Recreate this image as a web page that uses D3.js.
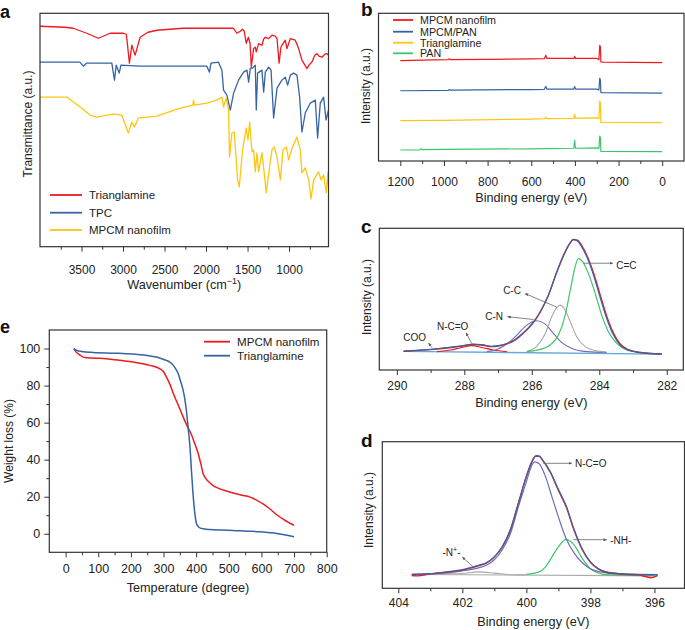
<!DOCTYPE html>
<html><head><meta charset="utf-8">
<script src="https://cdn.jsdelivr.net/npm/d3@7"></script>
<style>
body{margin:0;background:#fff}
text{font-family:"Liberation Sans",Arial,Helvetica,sans-serif;fill:#222}
</style>
</head><body><script>
// ---------------- DATA ----------------
// Panel a: FTIR, [wavenumber cm-1, transmittance a.u.]
const irTrianglamine = [[4000,110.5],[3700,110],[3600,109.5],[3437,107],[3297,104.5],[3155,107],[2995,107],[2960,106.5],[2923,92],[2894,101],[2854,96],[2794,105],[2700,107.5],[2592,108.5],[2275,109.5],[1900,109.5],[1670,109.5],[1628,107],[1588,108],[1560,109],[1540,108],[1516,102],[1490,105],[1470,102],[1455,90],[1427,99.3],[1407,100],[1395,97.7],[1367,101.8],[1326,101],[1307,104],[1286,105],[1246,104.3],[1206,106],[1166,105.5],[1145,104.3],[1120,92],[1098,100],[1086,101],[1046,103.5],[1025,99.3],[985,104.3],[925,103.5],[885,99.3],[845,93.5],[784,89.3],[760,91],[723,92.7],[690,96],[663,96.8],[640,95.5],[603,95],[570,96.5],[543,96.8],[525,96]];
const irTPC = [[4000,92.5],[3520,92.5],[3478,90.5],[3440,92],[3276,92],[3135,92],[3103,83.5],[3082,91],[3046,87],[3025,91],[2800,90.5],[2400,90.5],[1990,90.5],[1959,87.5],[1940,92],[1850,92.5],[1809,88.5],[1789,78.5],[1749,76],[1708,68.5],[1668,77],[1608,83.5],[1548,87.5],[1507,88.5],[1487,82.5],[1467,89.5],[1439,89.5],[1407,91],[1395,68.5],[1379,87],[1327,88.5],[1306,77.5],[1286,87.5],[1246,90],[1217,88.5],[1186,64.5],[1145,79.5],[1086,83.5],[1046,85],[1017,81],[985,86],[945,87],[905,86],[873,75],[845,57.5],[805,67],[744,72],[684,73.5],[656,54.5],[624,72],[584,75],[555,63.5],[525,68.5]];
const irMPCM = [[4000,75],[3678,75],[3500,69.5],[3397,66],[3317,65],[3200,66],[3116,66.5],[3015,66],[2936,57],[2894,62.5],[2863,60],[2815,64.5],[2592,65.5],[2350,69],[2160,71],[2150,73.5],[2140,71],[1990,72],[1870,73.5],[1809,75],[1789,70],[1757,74.5],[1729,68.5],[1717,45],[1688,57],[1660,57.5],[1620,33.5],[1600,30],[1560,48.5],[1516,59.5],[1495,53.5],[1475,62.5],[1447,47.5],[1427,48.5],[1407,37.5],[1387,47],[1367,37.5],[1327,47],[1307,40],[1275,27],[1235,40],[1206,48.5],[1178,50],[1145,45],[1105,33.5],[1073,48.5],[1033,50],[1005,43.5],[964,49.5],[905,55],[865,48.5],[845,37],[805,39.5],[764,33.5],[736,24],[704,33.5],[644,37.5],[615,33.5],[584,36],[552,27],[532,37.5],[525,30]];
const irNames = ["Trianglamine","TPC","MPCM nanofilm"];
const aXMajor = [3500,3000,2500,2000,1500,1000];
const aXMinor = [3750,3250,2750,2250,1750,1250,750];

// Panel b: XPS survey, [binding energy eV, intensity a.u.]
const surveyMPCM = [[1200,50.3],[1100,50.5],[980,50.8],[975,51.2],[970,50.8],[800,50.9],[600,51.2],[540,51.3],[533,53],[529,51.4],[405,51.4],[401,52.4],[397,51.4],[300,51.4],[290,50.8],[286,58],[283,57],[281,49.6],[270,49.5],[0,49.3]];
const surveyMPCMPAN = [[1200,35.2],[980,35.4],[975,35.8],[970,35.5],[600,35.8],[540,35.9],[533,37.4],[529,36],[405,36],[401,37.3],[397,36],[300,36],[290,35.6],[286,41.5],[283,40.5],[281,34.3],[0,34]];
const surveyTrianglamine = [[1200,20.2],[1000,20.4],[600,21],[540,21.2],[533,21.9],[529,21.2],[405,21.4],[401,23.3],[397,21.5],[300,21.6],[290,21.3],[286,30],[283,29],[281,19.3],[0,19.2]];
const surveyPAN = [[1200,5.5],[1110,5.6],[1105,6.2],[1100,5.7],[1000,5.8],[600,6.1],[405,6.4],[401,10.5],[398,6.4],[300,6.6],[290,6.3],[286,12.5],[283,11.6],[281,4.8],[0,4.7]];
const surveyNames = ["MPCM nanofilm","MPCM/PAN","Trianglamine","PAN"];
const bXMajor = [1200,1000,800,600,400,200,0];
const bXMinor = [1100,900,700,500,300,100];

// Panel c: C1s, [eV, intensity]
const c1sRaw = [[289.8,9.4],[289,10.2],[288.5,11],[288,12.1],[287.75,12.8],[287.48,12.5],[287.19,11.7],[286.99,12],[286.74,13.1],[286.49,15.1],[286.25,18.5],[286,22.8],[285.75,29],[285.51,37.3],[285.26,49],[285.06,57.3],[284.88,63.2],[284.77,65.4],[284.65,65],[284.52,62.3],[284.37,57.5],[284.17,48.6],[283.98,38],[283.78,27],[283.58,18.5],[283.38,13],[283.14,10.2],[282.79,8.8],[282.15,8]];
const c1sFit = [[289.8,9.5],[289,10.3],[288.5,11.2],[288,12.3],[287.75,13],[287.48,12.7],[287.19,11.8],[286.99,12.2],[286.74,13.3],[286.49,15.3],[286.25,18.7],[286,23],[285.75,29.2],[285.51,37.5],[285.26,49.2],[285.06,57.5],[284.88,63.3],[284.77,65.3],[284.65,64.7],[284.52,61.7],[284.37,56.7],[284.17,47.5],[283.98,36.7],[283.78,25.8],[283.58,17.5],[283.38,12.5],[283.14,10],[282.79,8.8],[282.15,8]];
const c1sCC2 = [[286.15,9.2],[285.75,10.3],[285.46,12.5],[285.21,17.5],[285.01,27.5],[284.86,40],[284.73,50.8],[284.62,55.8],[284.49,54.2],[284.32,48.3],[284.12,38.3],[283.93,27.5],[283.73,19.2],[283.48,13.3],[283.19,10],[282.79,8.7],[282.15,8]];
const c1sCC = [[286.15,9.2],[285.85,12],[285.6,18.3],[285.41,26.7],[285.26,31.3],[285.16,32.5],[285.04,30.8],[284.86,24.2],[284.67,16.7],[284.42,11.7],[284.12,9.7],[283.78,9]];
const c1sCN = [[287.33,9.2],[287.04,10.3],[286.74,13],[286.44,17.5],[286.15,22.5],[285.85,24.7],[285.6,23],[285.36,18.3],[285.11,13.7],[284.81,10.8],[284.37,9.2],[283.78,8.7]];
const c1sNCO = [[288.81,9.2],[288.42,10],[288.07,11.3],[287.78,12.2],[287.48,11.3],[287.14,10],[286.74,9.2]];
const c1sBase = [[289.8,9.3],[282.15,8]];
const cXMajor = [290,288,286,284,282];
const cXMinor = [289,287,285,283];
const cLabels = [
  {t:"C=C", x:283.5, y:50.5, ax0:284.47, ay0:53.5, ax1:283.6, ay1:53.5},
  {t:"C-C", x:286.85, y:38, ax0:285.26, ay0:31.5, ax1:286.2, ay1:38.3},
  {t:"C-N", x:287.38, y:25, ax0:285.95, ay0:25.3, ax1:286.72, ay1:26.7},
  {t:"N-C=O", x:288.81, y:20, ax0:287.78, ay0:13.3, ax1:287.95, ay1:18.6},
  {t:"COO", x:289.81, y:14.5, ax0:288.96, ay0:11.2, ax1:289.06, ay1:13.5}
];

// Panel d: N1s, [eV, intensity]
const n1sFit = [[403.58,7],[403,7.3],[402.5,8.2],[402,9.3],[401.75,10.3],[401.5,11.5],[401.25,12.8],[401,15.7],[400.75,20.7],[400.5,29],[400.25,42.3],[400,55.7],[399.85,62.3],[399.7,66],[399.6,66],[399.5,64.3],[399.25,58.2],[399,49.5],[398.75,41],[398.5,29],[398.25,19.5],[398,13.2],[397.75,9.8],[397.5,8.2],[397,7.3],[396.5,7],[395.9,6.8]];
const n1sRaw = [[403.58,6.4],[403.4,6.2],[403,7.2],[402.5,8],[402,9.1],[401.75,10.1],[401.5,11.3],[401.25,12.6],[401,15.6],[400.75,20.8],[400.5,29.3],[400.25,42.6],[400,56],[399.85,62.6],[399.7,66.3],[399.6,66.2],[399.5,64.2],[399.25,57.9],[399,49],[398.75,40.5],[398.5,28.6],[398.25,19.2],[398,13],[397.75,9.6],[397.5,8],[397,7.1],[396.5,6.7],[396.1,5.3],[395.9,6.5]];
const n1sNCO = [[403.58,7],[402.5,7.7],[402,8.7],[401.5,10.2],[401.25,11.5],[401,14.3],[400.75,19.3],[400.5,27.3],[400.25,40.7],[400,53.2],[399.85,60.7],[399.74,63.2],[399.6,62.3],[399.4,55.7],[399.2,45.7],[399,35.7],[398.75,24.5],[398.5,17.5],[398.25,12.8],[398,9.8],[397.5,7.7],[397,7],[396,6.7]];
const n1sNH = [[400,7],[399.6,8.2],[399.4,10.7],[399.2,15.7],[399,20.7],[398.77,24.3],[398.5,21.5],[398.25,14.8],[398,9.8],[397.75,7.7],[397.5,6.8],[396,6.3]];
const n1sNplus = [[403.5,6.9],[403,7],[402.5,7.2],[402,7.4],[401.5,8.2],[401,7.6],[400.5,6.8],[400,6.7]];
const n1sBase = [[403.58,6.9],[395.9,6.2]];
const dXMajor = [404,402,400,398,396];
const dXMinor = [403,401,399,397];
const dLabels = [
  {t:"N-C=O", x:398.48, y:60.5, ax0:399.47, ay0:62.5, ax1:398.58, ay1:62.5},
  {t:"-NH-", x:397.38, y:22.4, ax0:398.53, ay0:24.3, ax1:397.49, ay1:24.3},
  {t:"-N+-", x:402.62, y:16.2, ax0:401.66, ay0:10.7, ax1:402.0, ay1:15.6}
];

// Panel e: TGA, [temperature, weight %]
const tgaMPCM = [[25,100],[30,98.6],[37,97.3],[44,96.5],[52,95.5],[59,95.2],[80,94.9],[105,94.7],[150,94],[207,92.7],[258,90.9],[289,89],[300,87.5],[309,84.6],[320,80.5],[330,75.7],[345,69.5],[360,63.1],[373,58],[386,53.3],[396,48.5],[406,43.5],[414,38],[421,32.7],[430,29.8],[437,28.3],[450,26.3],[462,25],[485,23.5],[513,22],[540,20.8],[564,19.9],[585,18.2],[605,16.1],[625,13.5],[646,10.4],[670,7.5],[700,4.5]];
const tgaTrianglamine = [[25,100],[35,98.9],[49,98.4],[85,97.9],[150,97.5],[207,97],[240,96.5],[268,95.7],[290,94.8],[309,93.6],[320,92.6],[330,90.9],[338,88.8],[345,86.4],[352,82.5],[360,77.5],[365,73],[370,66.7],[375,58],[381,47],[386,33],[391,20.2],[396,11],[401,5.5],[406,4],[411,3.2],[425,2.6],[442,2.3],[480,2],[513,1.8],[555,1.4],[595,1.1],[625,0.6],[646,0.2],[670,-0.5],[700,-1.6]];
const tgaNames = ["MPCM nanofilm","Trianglamine"];
const eXMajor = [0,100,200,300,400,500,600,700,800];
const eXMinor = [50,150,250,350,450,550,650,750];
const eYMajor = [0,20,40,60,80,100];
const eYMinor = [10,30,50,70,90];

// ---------------- STYLE ----------------
const RED="#f0191f", BLUE="#3563a3", YEL="#ffc50f", GRN="#3cc56b", PUR="#6e6db4", GRY="#a8a8a8", LBL="#64a9e0";

const svg = d3.select("body").append("svg").attr("width",685).attr("height",630);
const defs = svg.append("defs");
defs.append("marker").attr("id","arr").attr("viewBox","0 0 10 10").attr("refX",9).attr("refY",5)
  .attr("markerWidth",4.5).attr("markerHeight",4.5).attr("orient","auto")
  .append("path").attr("d","M0,1L10,5L0,9z").attr("fill","#555");

function makePanel(o){
  const x = d3.scaleLinear().domain(o.xd).range([o.l,o.r]);
  const y = d3.scaleLinear().domain(o.yd).range([o.b,o.t]);
  const g = svg.append("g");
  defs.append("clipPath").attr("id","clip"+o.id).append("rect")
    .attr("x",o.l).attr("y",o.t).attr("width",o.r-o.l).attr("height",o.b-o.t);
  const plot = g.append("g").attr("clip-path",`url(#clip${o.id})`);
  const ax = g.append("g").attr("transform",`translate(0,${o.b})`)
    .call(d3.axisBottom(x).tickValues(o.major).tickSize(5).tickSizeOuter(0).tickFormat(d3.format("d")));
  ax.attr("font-family",null).attr("font-size",null);
  ax.select(".domain").remove();
  ax.selectAll("line").attr("stroke","#333");
  ax.selectAll("text").attr("y",o.lab).attr("dy",0).style("font-size","12px").style("fill","#222");
  const mn = g.append("g").attr("transform",`translate(0,${o.b})`)
    .call(d3.axisBottom(x).tickValues(o.minor).tickSize(3).tickSizeOuter(0).tickFormat(""));
  mn.select(".domain").remove(); mn.selectAll("line").attr("stroke","#333");
  return {x,y,g,plot,o};
}
function frame(P){
  const o=P.o;
  P.g.append("rect").attr("x",o.l).attr("y",o.t).attr("width",o.r-o.l).attr("height",o.b-o.t)
    .attr("fill","none").attr("stroke","#333").attr("stroke-width",1.2);
}
function draw(P,data,color,w,curve){
  const pts = data.slice().sort((a,b)=>P.x(a[0])-P.x(b[0]));
  P.plot.append("path").datum(pts).attr("fill","none").attr("stroke",color)
    .attr("stroke-width",w||1.2).attr("stroke-linejoin","round")
    .attr("d",d3.line().x(d=>P.x(d[0])).y(d=>P.y(d[1])).curve(curve||d3.curveLinear));
}
function xTitle(P,y,build){
  const t = P.g.append("text").attr("x",(P.o.l+P.o.r)/2).attr("y",y)
    .attr("text-anchor","middle").style("font-size","12.7px");
  build(t);
}
function yTitle(x,y,txt){
  svg.append("text").attr("transform",`translate(${x},${y}) rotate(-90)`)
    .attr("text-anchor","middle").style("font-size","12px").text(txt);
}
function panelLabel(x,y,t,fs){
  svg.append("text").attr("x",x).attr("y",y).style("font-size",fs+"px").style("font-weight","bold").style("fill","#111").text(t);
}
function legend(items,x0,x1,tx,ys,fs){
  items.forEach((it,i)=>{
    svg.append("line").attr("x1",x0).attr("x2",x1).attr("y1",ys[i]).attr("y2",ys[i]).attr("stroke",it.c).attr("stroke-width",1.8);
    svg.append("text").attr("x",tx).attr("y",ys[i]+4).style("font-size",fs+"px").text(it.t);
  });
}
function annotate(P,list){
  list.forEach(a=>{
    P.g.append("line").attr("x1",P.x(a.ax0)).attr("y1",P.y(a.ay0)).attr("x2",P.x(a.ax1)).attr("y2",P.y(a.ay1))
      .attr("stroke","#666").attr("stroke-width",0.8).attr("marker-end","url(#arr)");
    const t = P.g.append("text").attr("x",P.x(a.x)).attr("y",P.y(a.y)).style("font-size","10px");
    if(a.t==="-N+-"){ t.text("-N"); t.append("tspan").attr("dy",-4).style("font-size","7px").text("+"); t.append("tspan").attr("dy",4).text("-"); }
    else t.text(a.t);
  });
}

// ---------------- PANEL a ----------------
const A = makePanel({id:"a",l:40,r:328.5,t:13.3,b:246.7,xd:[4000,525],yd:[0,117],major:aXMajor,minor:aXMinor,lab:27});
draw(A,irTrianglamine,RED,1.3);
draw(A,irTPC,BLUE,1.3);
draw(A,irMPCM,YEL,1.3);
frame(A);
xTitle(A,289,t=>{t.text("Wavenumber (cm"); t.append("tspan").attr("dy",-5).style("font-size","9px").text("\u22121"); t.append("tspan").attr("dy",5).text(")");});
yTitle(32,124,"Transmittance (a.u.)");
legend([{t:irNames[0],c:RED},{t:irNames[1],c:BLUE},{t:irNames[2],c:YEL}],50,82,89,[195,212.7,230],11.5);
panelLabel(0,18,"a",18);

// ---------------- PANEL b ----------------
const B = makePanel({id:"b",l:378.5,r:684,t:13.3,b:161,xd:[1300,-100],yd:[0,74],major:bXMajor,minor:bXMinor,lab:24.5});
draw(B,surveyMPCM,RED,1.2);
draw(B,surveyMPCMPAN,BLUE,1.2);
draw(B,surveyTrianglamine,YEL,1.2);
draw(B,surveyPAN,GRN,1.2);
frame(B);
xTitle(B,202,t=>t.text("Binding energy (eV)"));
yTitle(370,86,"Intensity (a.u.)");
legend([{t:surveyNames[0],c:RED},{t:surveyNames[1],c:BLUE},{t:surveyNames[2],c:YEL},{t:surveyNames[3],c:GRN}],393,413,420,[20,31.7,42.7,53.3],10.7);
panelLabel(361,16,"b",19);

// ---------------- PANEL c ----------------
const C = makePanel({id:"c",l:379.3,r:683.3,t:228.3,b:370,xd:[290.52,281.51],yd:[0,71],major:cXMajor,minor:cXMinor,lab:20});
draw(C,c1sBase,LBL,1.3);
draw(C,c1sNCO,RED,1.1,d3.curveMonotoneX);
draw(C,c1sCN,PUR,1.1,d3.curveMonotoneX);
draw(C,c1sCC,GRY,1.1,d3.curveMonotoneX);
draw(C,c1sCC2,GRN,1.2,d3.curveMonotoneX);
draw(C,c1sRaw,RED,1.4,d3.curveMonotoneX);
draw(C,c1sFit,BLUE,1.2,d3.curveMonotoneX);
annotate(C,cLabels);
frame(C);
xTitle(C,407,t=>t.text("Binding energy (eV)"));
yTitle(371,297,"Intensity (a.u.)");
panelLabel(361,232.7,"c",19);

// ---------------- PANEL d ----------------
const D = makePanel({id:"d",l:382.3,r:684.5,t:441.7,b:588.3,xd:[404.5,395.06],yd:[0,73.3],major:dXMajor,minor:dXMinor,lab:18.5});
draw(D,n1sBase,GRY,1.1);
draw(D,n1sNplus,GRY,1.1,d3.curveMonotoneX);
draw(D,n1sNH,GRN,1.2,d3.curveMonotoneX);
draw(D,n1sNCO,PUR,1.2,d3.curveMonotoneX);
draw(D,n1sRaw,RED,1.4,d3.curveMonotoneX);
draw(D,n1sFit,BLUE,1.2,d3.curveMonotoneX);
annotate(D,dLabels);
frame(D);
xTitle(D,626,t=>t.text("Binding energy (eV)"));
yTitle(373,510,"Intensity (a.u.)");
panelLabel(361,446.7,"d",19);

// ---------------- PANEL e ----------------
const E = makePanel({id:"e",l:49.3,r:326.7,t:330,b:552.3,xd:[-50,800],yd:[-10,110],major:eXMajor,minor:eXMinor,lab:20.5});
const ay = E.g.append("g").attr("transform",`translate(${E.o.l},0)`)
  .call(d3.axisLeft(E.y).tickValues(eYMajor).tickSize(5).tickSizeOuter(0).tickFormat(d3.format("d")));
ay.attr("font-family",null).attr("font-size",null);
ay.select(".domain").remove(); ay.selectAll("line").attr("stroke","#333");
ay.selectAll("text").attr("x",-9).style("font-size","12.5px").style("fill","#222");
const ayM = E.g.append("g").attr("transform",`translate(${E.o.l},0)`)
  .call(d3.axisLeft(E.y).tickValues(eYMinor).tickSize(3).tickSizeOuter(0).tickFormat(""));
ayM.select(".domain").remove(); ayM.selectAll("line").attr("stroke","#333");
E.g.selectAll("text").style("font-size","12.5px");
draw(E,tgaMPCM,RED,1.5,d3.curveMonotoneX);
draw(E,tgaTrianglamine,BLUE,1.5,d3.curveMonotoneX);
frame(E);
xTitle(E,592,t=>t.text("Temperature (degree)"));
yTitle(13,441,"Weight loss (%)");
legend([{t:tgaNames[0],c:RED},{t:tgaNames[1],c:BLUE}],204,230,237,[341.7,355.7],11.6);
panelLabel(0,332.7,"e",18);
</script></body></html>
